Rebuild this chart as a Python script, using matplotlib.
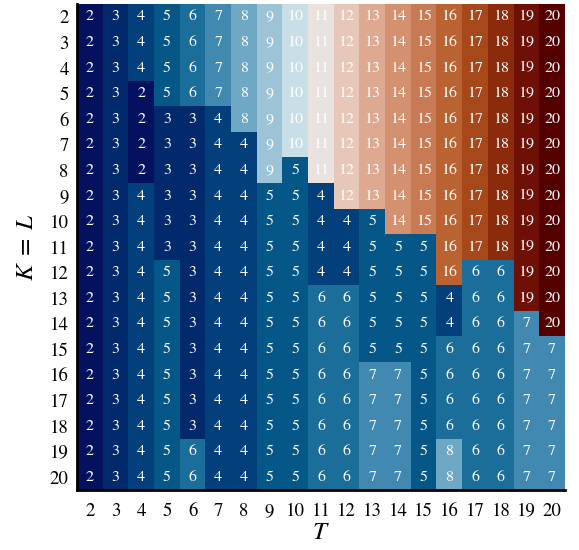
import numpy as np
import matplotlib
matplotlib.use("Agg")
import matplotlib.pyplot as plt
from matplotlib.colors import LinearSegmentedColormap

plt.rcParams['font.family'] = 'serif'
plt.rcParams['font.serif'] = ['STIXGeneral', 'Liberation Serif', 'DejaVu Serif']
plt.rcParams['mathtext.fontset'] = 'stix'

T_vals = list(range(2, 21))
K_vals = list(range(2, 21))

full = list(range(2, 21))
rows = [
    full,
    full,
    full,
    [2, 3, 2, 5, 6, 7, 8, 9, 10, 11, 12, 13, 14, 15, 16, 17, 18, 19, 20],
    [2, 3, 2, 3, 3, 4, 8, 9, 10, 11, 12, 13, 14, 15, 16, 17, 18, 19, 20],
    [2, 3, 2, 3, 3, 4, 4, 9, 10, 11, 12, 13, 14, 15, 16, 17, 18, 19, 20],
    [2, 3, 2, 3, 3, 4, 4, 9, 5, 11, 12, 13, 14, 15, 16, 17, 18, 19, 20],
    [2, 3, 4, 3, 3, 4, 4, 5, 5, 4, 12, 13, 14, 15, 16, 17, 18, 19, 20],
    [2, 3, 4, 3, 3, 4, 4, 5, 5, 4, 4, 5, 14, 15, 16, 17, 18, 19, 20],
    [2, 3, 4, 3, 3, 4, 4, 5, 5, 4, 4, 5, 5, 5, 16, 17, 18, 19, 20],
    [2, 3, 4, 5, 3, 4, 4, 5, 5, 4, 4, 5, 5, 5, 16, 6, 6, 19, 20],
    [2, 3, 4, 5, 3, 4, 4, 5, 5, 6, 6, 5, 5, 5, 4, 6, 6, 19, 20],
    [2, 3, 4, 5, 3, 4, 4, 5, 5, 6, 6, 5, 5, 5, 4, 6, 6, 7, 20],
    [2, 3, 4, 5, 3, 4, 4, 5, 5, 6, 6, 5, 5, 5, 6, 6, 6, 7, 7],
    [2, 3, 4, 5, 3, 4, 4, 5, 5, 6, 6, 7, 7, 5, 6, 6, 6, 7, 7],
    [2, 3, 4, 5, 3, 4, 4, 5, 5, 6, 6, 7, 7, 5, 6, 6, 6, 7, 7],
    [2, 3, 4, 5, 3, 4, 4, 5, 5, 6, 6, 7, 7, 5, 6, 6, 6, 7, 7],
    [2, 3, 4, 5, 6, 4, 4, 5, 5, 6, 6, 7, 7, 5, 8, 6, 6, 7, 7],
    [2, 3, 4, 5, 6, 4, 4, 5, 5, 6, 6, 7, 7, 5, 8, 6, 6, 7, 7],
]
data = np.array(rows)

anchor_colors = ['#03115e', '#042a6e', '#02407c', '#055888', '#1d6f9b', '#4189b0',
                 '#6fa8c4', '#9ec5d7', '#cbe0e8', '#ebe3e0', '#e8c8b8', '#deaa91',
                 '#d39170', '#c77a53', '#bb6534', '#a84a1c', '#8d2c0c', '#6f1107', '#540000']
cmap = LinearSegmentedColormap.from_list('custom', anchor_colors)

fig = plt.figure(figsize=(5.79, 5.5), dpi=100)
ax = fig.add_axes([77/579, 1 - 490/550, (565 - 77)/579, (490 - 4)/550])
ax.imshow(data, cmap=cmap, vmin=2, vmax=20, aspect='auto', interpolation='nearest')

for i in range(len(K_vals)):
    for j in range(len(T_vals)):
        ax.text(j, i, str(data[i, j]), ha='center', va='center',
                color='white', fontsize=11.5)

ax.set_xticks(range(len(T_vals)))
ax.set_xticklabels([str(t) for t in T_vals], fontsize=13.5)
ax.set_yticks(range(len(K_vals)))
ax.set_yticklabels([str(k) for k in K_vals], fontsize=13.5)
ax.tick_params(axis='x', length=0, pad=9)
ax.tick_params(axis='y', length=0, pad=6)
for s in ['top', 'right']:
    ax.spines[s].set_visible(False)
for s in ['left', 'bottom']:
    ax.spines[s].set_linewidth(2)
    ax.spines[s].set_color('black')

ax.set_xlabel(r'$T$', fontsize=18, labelpad=1)
ax.set_ylabel(r'$K\;=\;L$', fontsize=18, labelpad=8)

fig.savefig('out.png', dpi=100)
